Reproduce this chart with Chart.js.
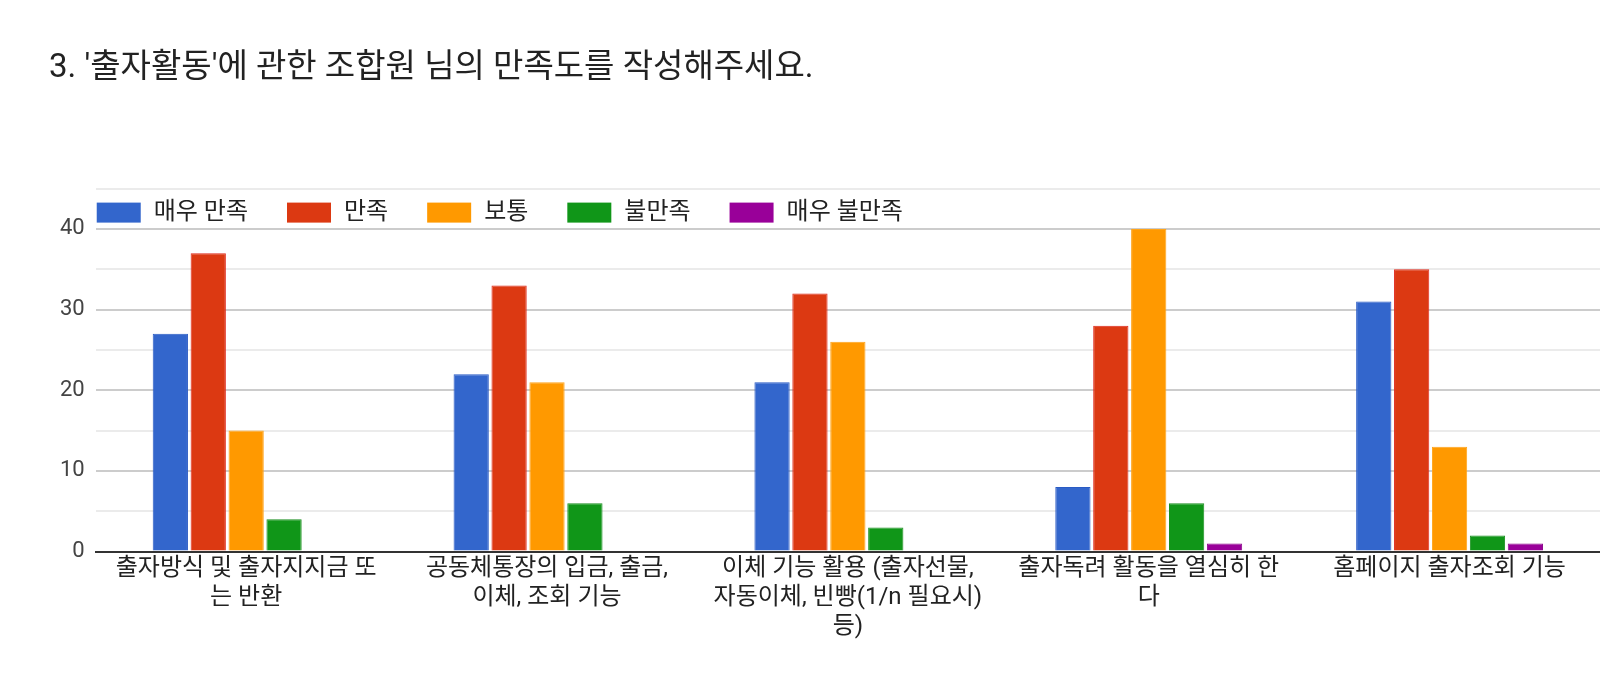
<!DOCTYPE html>
<html lang="ko">

<head>
    <meta charset="UTF-8" />
    <title>출자활동 만족도</title>
    <script src="https://cdn.jsdelivr.net/npm/chart.js"></script>
    <style>
        html, body { margin: 0; padding: 0; background: #fff; }
        #wrap { width: 1600px; height: 694px; }
    </style>
</head>

<body>
    <div id="wrap"><canvas id="myChart"></canvas></div>

    <script>
        // categories (multi-line labels as in the picture)
        const labels = [
            ["출자방식 및 출자지지금 또", "는 반환"],
            ["공동체통장의 입금, 출금,", "이체, 조회 기능"],
            ["이체 기능 활용 (출자선물,", "자동이체, 빈빵(1/n 필요시)", "등)"],
            ["출자독려 활동을 열심히 한", "다"],
            "홈페이지 출자조회 기능",
        ];

        const seriesNames = ["매우 만족", "만족", "보통", "불만족", "매우 불만족"];

        const veryGood = [27, 22, 21, 8, 31];
        const good = [37, 33, 32, 28, 35];
        const normal = [15, 21, 26, 40, 13];
        const bad = [4, 6, 3, 6, 2];
        const veryBad = [0, 0, 0, 1, 1];

        const yTicks = [0, 10, 20, 30, 40];

        const colors = ["#3366cc", "#dc3912", "#ff9900", "#109618", "#990099"];
        const borders = ["#2a5bc4", "#e0281a", "#ffa41a", "#1a8f1f", "#8d0c8d"];

        const fontFamily = "Roboto, 'Noto Sans CJK KR', sans-serif";

        const values = [veryGood, good, normal, bad, veryBad];
        const datasets = seriesNames.map((name, i) => ({
            label: name,
            data: values[i],
            backgroundColor: colors[i],
            borderColor: borders[i],
            borderWidth: 1,
            categoryPercentage: 0.63,
            barPercentage: 0.93,
        }));

        // horizontal legend drawn inside the top of the plot area
        const insideLegend = {
            id: "insideLegend",
            afterDatasetsDraw(chart) {
                const ctx = chart.ctx;
                const area = chart.chartArea;
                let x = area.left + 1;
                const y = area.top + 14;
                ctx.save();
                ctx.font = "24px " + fontFamily;
                ctx.textBaseline = "middle";
                chart.data.datasets.forEach((ds) => {
                    ctx.fillStyle = ds.backgroundColor;
                    ctx.fillRect(x, y, 44, 20);
                    ctx.fillStyle = "#222";
                    ctx.fillText(ds.label, x + 57, y + 10);
                    x += 57 + ctx.measureText(ds.label).width + 39;
                });
                ctx.restore();
            },
        };

        const canvas = document.getElementById("myChart");

        new Chart(canvas, {
            type: "bar",
            data: { labels: labels, datasets: datasets },
            plugins: [insideLegend],
            options: {
                responsive: true,
                maintainAspectRatio: false,
                animation: false,
                layout: { padding: { left: 49, right: 0, top: 0, bottom: 50 } },
                plugins: {
                    title: {
                        display: true,
                        text: "3. '출자활동'에 관한 조합원 님의 만족도를 작성해주세요.",
                        align: "start",
                        color: "#222",
                        font: { family: fontFamily, size: 33, weight: "normal", lineHeight: 1.2 },
                        padding: { top: 49, bottom: 100 },
                    },
                    legend: { display: false },
                    tooltip: { enabled: false },
                },
                scales: {
                    x: {
                        grid: { display: false, drawTicks: false },
                        border: { color: "#333", width: 2 },
                        ticks: {
                            color: "#222",
                            padding: 3,
                            maxRotation: 0,
                            autoSkip: false,
                            font: { family: fontFamily, size: 24, lineHeight: 1.2 },
                        },
                    },
                    y: {
                        min: 0,
                        max: 45,
                        border: { display: false },
                        grid: {
                            drawTicks: false,
                            color: (ctx) => (ctx.tick && ctx.tick.value % 10 === 0 ? "#cccccc" : "#ebebeb"),
                            lineWidth: 2,
                        },
                        ticks: {
                            stepSize: 5,
                            padding: 11,
                            color: "#444",
                            font: { family: fontFamily, size: 22 },
                            callback: (v) => (yTicks.includes(v) ? v : ""),
                        },
                    },
                },
            },
        });
    </script>
</body>

</html>
